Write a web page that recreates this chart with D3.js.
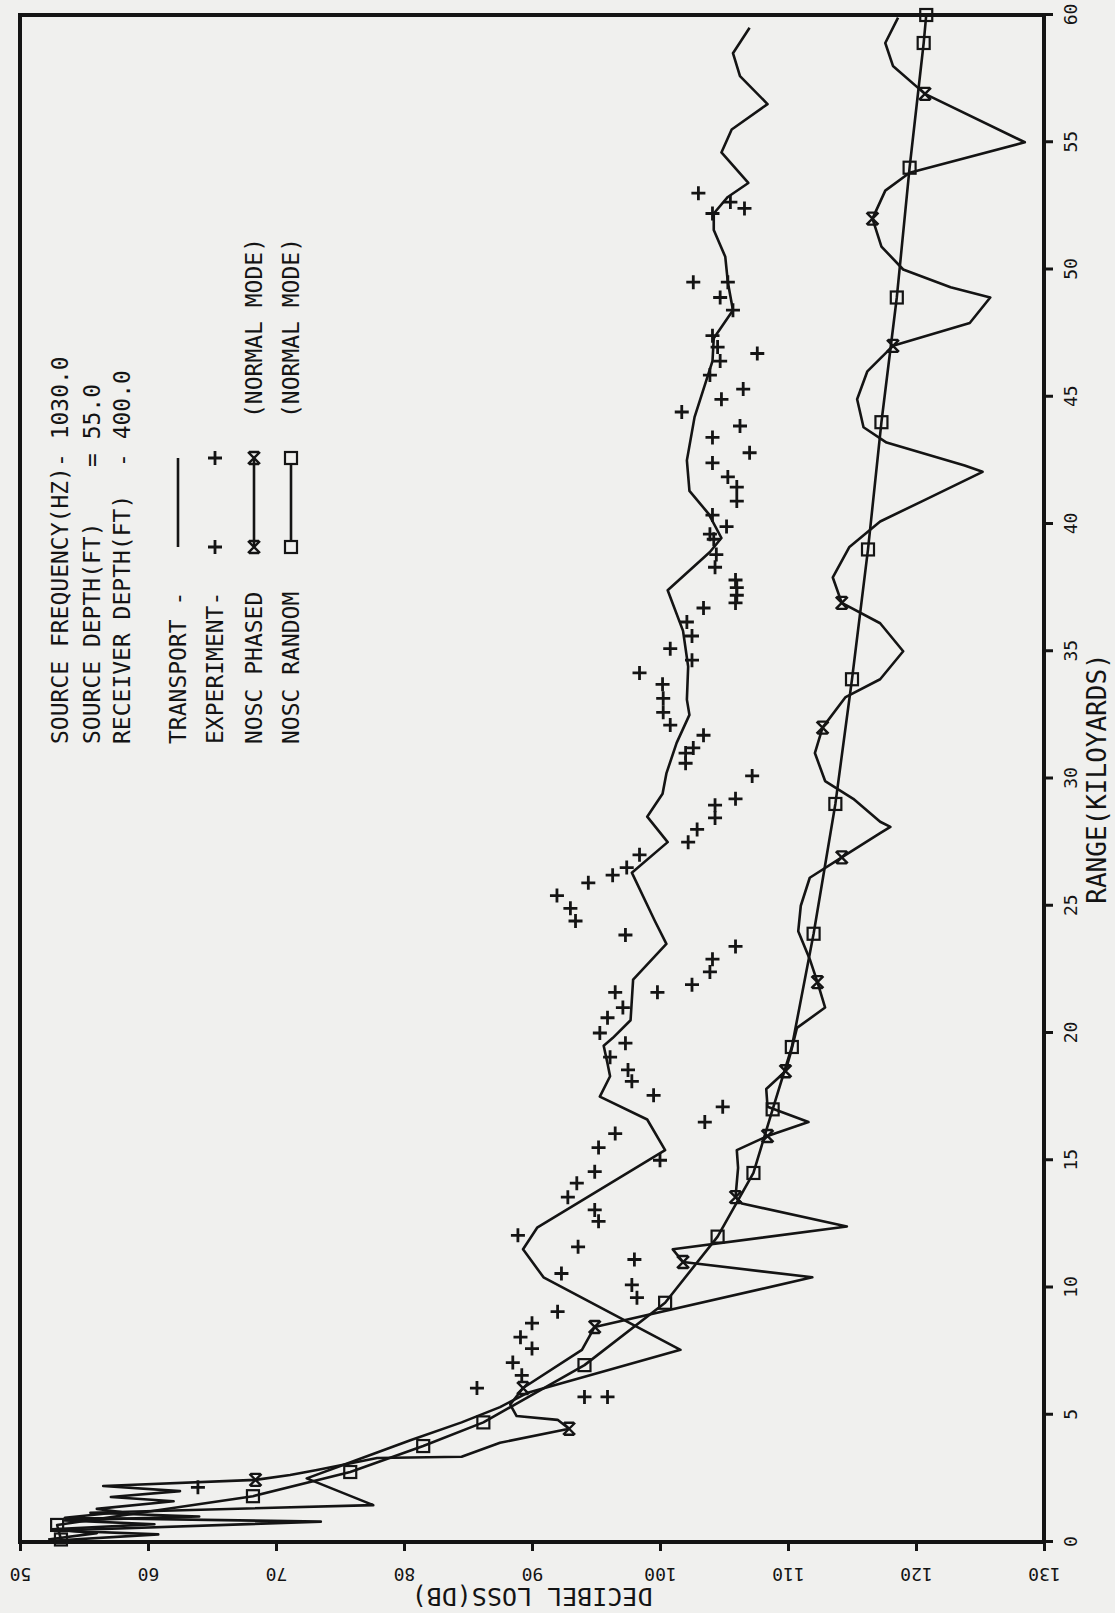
<!DOCTYPE html>
<html>
<head>
<meta charset="utf-8">
<script src="https://cdn.jsdelivr.net/npm/d3@7"></script>
<style>
body { margin: 0; background: #f0f0ee; }
svg { display: block; }
text { font-family: "DejaVu Sans Mono", monospace; fill: #141414; white-space: pre; }
</style>
</head>
<body>
<div id="chart"></div>
<script>
"use strict";
(function() {

// page is the plot turned a quarter turn counter-clockwise
const WIDTH = 1115
const HEIGHT = 1613

const INK = "#141414"
const PAPER = "#f0f0ee"

const rangeTicks = [0, 5, 10, 15, 20, 25, 30, 35, 40, 45, 50, 55, 60]
const lossTicks = [50, 60, 70, 80, 90, 100, 110, 120, 130]

// [range kyd, loss dB]
const transport = [
  [0.1, 52.2], [0.35, 56], [0.5, 52.5], [0.7, 60.5], [0.85, 53.5], [1.0, 64], [1.15, 55.5],
  [1.45, 77.6], [2.5, 72.4], [3.2, 76.2], [4.0, 80.5], [4.7, 84.5], [5.3, 87.5], [5.85, 89.6],
  [7.55, 101.6], [10.4, 90.9], [11.5, 89.3], [12.35, 90.4], [15.4, 100.4], [16.6, 99.0],
  [17.5, 95.3], [18.3, 96.1], [18.8, 95.9], [19.5, 95.6], [19.8, 96.3], [20.5, 97.7],
  [22.1, 97.9], [23.5, 100.5], [24.4, 99.6], [26.3, 97.8], [27.5, 100.6], [28.5, 99.0],
  [29.4, 100.2], [30.2, 100.5], [31.4, 101.3], [32.5, 102.3], [33.1, 102.1], [34.4, 102.2],
  [35.8, 101.8], [37.4, 100.6], [38.9, 103.9], [39.45, 104.8], [40.4, 103.8], [41.3, 102.3],
  [42.5, 102.1], [44.2, 102.7], [46.4, 104.1], [47.3, 104.2], [48.4, 105.7], [49.5, 105.3],
  [50.5, 105.1], [51.55, 104.2], [52.2, 104.2], [52.85, 105.3], [53.4, 106.9], [54.6, 104.8],
  [55.5, 105.6], [56.5, 108.4], [57.6, 106.25], [58.5, 105.7], [59.5, 107.0]
]

const phased = [
  [0.05, 52.5], [0.3, 60.8], [0.45, 53], [0.8, 73.5], [0.95, 53.5], [1.18, 57.9], [1.3, 56],
  [1.6, 62], [1.77, 57.1], [2.0, 62.5], [2.2, 56.5], [2.44, 68.4], [2.63, 71.1], [2.83, 73.2],
  [3.3, 77.9], [3.35, 84.5], [3.9, 87.5], [4.45, 92.9], [4.8, 92.0], [4.95, 88.8], [5.4, 88.3],
  [6.05, 89.3], [7.55, 93.9], [8.45, 94.9], [10.4, 111.9], [11.0, 101.8], [11.5, 101.0],
  [12.4, 114.6], [13.3, 106.4], [13.55, 105.9], [14.7, 106.1], [15.4, 106.0], [15.95, 108.4],
  [16.5, 111.6], [17.1, 108.4], [17.8, 108.3], [18.5, 109.8], [19.2, 110.2], [20.2, 110.7],
  [21.0, 112.9], [22.0, 112.3], [22.9, 111.7], [24.0, 110.8], [25.0, 111.0], [26.1, 111.7],
  [26.9, 114.2], [27.85, 117.2], [28.1, 118.0], [28.3, 117.2], [29.2, 115.1], [29.9, 112.9],
  [31.0, 112.1], [32.0, 112.7], [33.2, 114.5], [33.9, 117.2], [35.0, 119.0], [36.1, 117.2],
  [36.9, 114.2], [37.9, 113.5], [39.1, 114.8], [40.1, 117.2], [40.9, 120.5], [42.05, 125.2],
  [42.3, 123.8], [43.2, 117.7], [43.8, 115.9], [44.9, 115.4], [46.0, 116.2], [47.0, 118.2],
  [47.9, 124.2], [48.9, 125.8], [49.3, 122.7], [50.0, 119.0], [50.9, 117.3], [52.0, 116.6],
  [53.1, 117.6], [53.8, 119.5], [55.0, 128.5], [56.9, 120.7], [58.0, 118.2], [58.9, 117.6],
  [59.9, 118.6]
]
const phasedMarks = [2.44, 4.45, 6.05, 8.45, 11.0, 13.55, 15.95, 18.5, 22.0, 26.9, 32.0, 36.9, 47.0, 52.0, 56.9]

const random = [
  [0.1, 53.2], [0.67, 52.9], [1.8, 68.2], [2.75, 75.8], [3.77, 81.5], [4.7, 86.2], [6.95, 94.1],
  [9.4, 100.4], [12.0, 104.5], [14.5, 107.3], [17.0, 108.8], [19.45, 110.3], [23.9, 112.0],
  [29.0, 113.7], [33.9, 115.0], [39.0, 116.25], [44.0, 117.3], [48.9, 118.5], [54.0, 119.5],
  [58.9, 120.6], [60.0, 120.8]
]

const experiment = [
  [53.0, 103.0], [52.65, 105.5], [52.4, 106.6], [52.2, 104.1], [49.5, 102.6], [49.5, 105.3],
  [48.9, 104.7], [48.4, 105.7], [47.4, 104.1], [46.95, 104.5], [46.7, 107.6], [46.4, 104.7],
  [45.85, 103.9], [45.3, 106.5], [44.9, 104.8], [44.4, 101.7], [43.85, 106.25], [43.4, 104.1],
  [42.8, 107.0], [42.4, 104.1], [41.85, 105.3], [41.45, 106.0], [40.9, 106.0], [40.35, 104.1],
  [39.9, 105.2], [39.6, 103.9], [39.4, 104.2], [38.8, 104.4], [38.3, 104.3], [37.8, 105.9],
  [37.5, 106.0], [37.2, 106.0], [36.9, 105.9], [36.7, 103.4], [36.15, 102.1], [35.6, 102.5],
  [35.1, 100.8], [34.65, 102.5], [34.15, 98.4], [33.7, 100.2], [33.15, 100.25], [32.6, 100.25],
  [32.1, 100.8], [31.7, 103.4], [31.2, 102.6], [31.0, 102.0], [30.6, 102.0], [30.1, 107.2],
  [29.2, 105.9], [28.95, 104.3], [28.45, 104.3], [28.0, 102.9], [27.5, 102.2], [27.0, 98.4],
  [26.5, 97.4], [26.2, 96.3], [25.9, 94.4], [25.4, 91.95], [24.9, 93.0], [24.4, 93.4],
  [23.85, 97.3], [23.4, 105.9], [22.9, 104.1], [22.4, 103.9], [21.9, 102.5], [21.6, 99.8],
  [21.6, 96.5], [21.0, 97.1], [20.6, 95.9], [20.0, 95.3], [19.6, 97.3], [19.05, 96.1],
  [18.55, 97.5], [18.1, 97.8], [17.55, 99.5], [17.1, 104.9], [16.5, 103.5], [16.05, 96.5],
  [15.5, 95.2], [15.0, 100.0], [14.55, 94.9], [14.1, 93.5], [13.55, 92.8], [13.05, 94.9],
  [12.6, 95.2], [12.05, 88.9], [11.6, 93.6], [11.1, 98.0], [10.55, 92.3], [10.1, 97.8],
  [9.6, 98.2], [9.05, 92.0], [8.6, 90.0], [8.05, 89.1], [7.6, 90.0], [7.05, 88.5],
  [6.55, 89.2], [6.05, 85.7], [5.7, 94.1], [5.7, 95.9], [2.15, 63.9]
]

const legendText = [
  "SOURCE FREQUENCY(HZ)- 1030.0",
  "SOURCE DEPTH(FT)    = 55.0",
  "RECEIVER DEPTH(FT)  - 400.0",
  "TRANSPORT -",
  "EXPERIMENT-",
  "NOSC PHASED",
  "NOSC RANDOM"
]
const modeNote = "(NORMAL MODE)"

// unrotated plot box
const x = d3.scaleLinear().domain([0, 60]).range([71, 1598])
const y = d3.scaleLinear().domain([50, 130]).range([20, 1044])

const PLUS = "M-7,0H7M0,-7V7"
const TIMES = "M-6,-6L6,6M6,-6L-6,6M-6,-5V5M6,-5V5"

const svg = d3.select("#chart").append("svg")
    .attr("width", WIDTH)
    .attr("height", HEIGHT)

svg.append("rect").attr("width", WIDTH).attr("height", HEIGHT).attr("fill", PAPER)

const g = svg.append("g")
    .attr("transform", `translate(0,${HEIGHT}) rotate(-90)`)

let line = d3.line()
  .x(function(d) { return x(d[0]); })
  .y(function(d) { return y(d[1]); });

// frame
g.append("rect")
    .attr("x", x(0)).attr("y", y(50))
    .attr("width", x(60) - x(0)).attr("height", y(130) - y(50))
    .attr("fill", "none").attr("stroke", INK).attr("stroke-width", 4)

// range axis
let ax = g.append("g")
    .attr("transform", `translate(0,${y(130)})`)
    .call(d3.axisBottom(x).tickValues(rangeTicks).tickSize(9).tickPadding(11).tickFormat(d3.format("d")))
ax.select(".domain").remove()
ax.attr("font-family", null).attr("font-size", 18)
ax.selectAll("line").attr("stroke", INK).attr("stroke-width", 3)
ax.selectAll("text").attr("fill", INK)

// loss axis
let ay = g.append("g")
    .attr("transform", `translate(${x(0)},0)`)
    .call(d3.axisLeft(y).tickValues(lossTicks).tickSize(9).tickFormat(d3.format("d")))
ay.select(".domain").remove()
ay.attr("font-family", null).attr("font-size", 18)
ay.selectAll("line").attr("stroke", INK).attr("stroke-width", 3)
ay.selectAll("text")
    .attr("x", null).attr("dy", null)
    .attr("text-anchor", "middle")
    .attr("transform", "translate(-26,0) rotate(-90)")
    .attr("fill", INK)

g.append("text")
    .attr("transform", `translate(25,${(y(50) + y(130)) / 2}) rotate(-90)`)
    .attr("text-anchor", "middle")
    .attr("font-size", 25)
    .text("DECIBEL LOSS(DB)")

g.append("text")
    .attr("x", (x(0) + x(60)) / 2)
    .attr("y", 1106)
    .attr("text-anchor", "middle")
    .attr("font-size", 26)
    .text("RANGE(KILOYARDS)")

// curves
function drawCurve(data) {
    g.append("path")
        .attr("d", line(data))
        .attr("fill", "none")
        .attr("stroke", INK)
        .attr("stroke-width", 2.6)
        .attr("stroke-linejoin", "round")
}
drawCurve(transport)
drawCurve(phased)
drawCurve(random)

g.selectAll("path.times")
    .data(phasedMarks.map(r => phased.find(p => p[0] === r)))
    .enter().append("path")
    .attr("class", "times")
    .attr("transform", d => `translate(${x(d[0])},${y(d[1])})`)
    .attr("d", TIMES)
    .attr("fill", "none").attr("stroke", INK).attr("stroke-width", 2.4)

g.selectAll("rect.sq")
    .data(random)
    .enter().append("rect")
    .attr("class", "sq")
    .attr("x", d => x(d[0]) - 6).attr("y", d => y(d[1]) - 6)
    .attr("width", 12).attr("height", 12)
    .attr("fill", "none").attr("stroke", INK).attr("stroke-width", 2.2)

g.selectAll("path.plus")
    .data(experiment)
    .enter().append("path")
    .attr("class", "plus")
    .attr("transform", d => `translate(${x(d[0])},${y(d[1])})`)
    .attr("d", PLUS)
    .attr("fill", "none").attr("stroke", INK).attr("stroke-width", 2.8)

// legend
const LX = 869
const FS = 23
const rows = [60, 92, 122, 178, 215, 254, 291]
const SYM0 = 1066, SYM1 = 1155

g.selectAll("text.leg")
    .data(legendText)
    .enter().append("text")
    .attr("class", "leg")
    .attr("x", LX)
    .attr("y", (d, i) => rows[i] + 8)
    .attr("font-size", FS)
    .text(d => d)

g.append("line").attr("x1", SYM0).attr("x2", SYM1).attr("y1", rows[3]).attr("y2", rows[3])
    .attr("stroke", INK).attr("stroke-width", 2.6)
;[SYM0, SYM1].forEach(function(px) {
    g.append("path").attr("transform", `translate(${px},${rows[4]})`).attr("d", PLUS)
        .attr("fill", "none").attr("stroke", INK).attr("stroke-width", 2.8)
})
g.append("line").attr("x1", SYM0).attr("x2", SYM1).attr("y1", rows[5]).attr("y2", rows[5])
    .attr("stroke", INK).attr("stroke-width", 2.6)
;[SYM0, SYM1].forEach(function(px) {
    g.append("path").attr("transform", `translate(${px},${rows[5]})`).attr("d", TIMES)
        .attr("fill", "none").attr("stroke", INK).attr("stroke-width", 2.4)
})
g.append("line").attr("x1", SYM0).attr("x2", SYM1).attr("y1", rows[6]).attr("y2", rows[6])
    .attr("stroke", INK).attr("stroke-width", 2.6)
;[SYM0, SYM1].forEach(function(px) {
    g.append("rect").attr("x", px - 6).attr("y", rows[6] - 6).attr("width", 12).attr("height", 12)
        .attr("fill", PAPER).attr("stroke", INK).attr("stroke-width", 2.2)
})
;[rows[5], rows[6]].forEach(function(ry) {
    g.append("text").attr("x", 1195).attr("y", ry + 8).attr("font-size", FS).text(modeNote)
})

})();
</script>
</body>
</html>
